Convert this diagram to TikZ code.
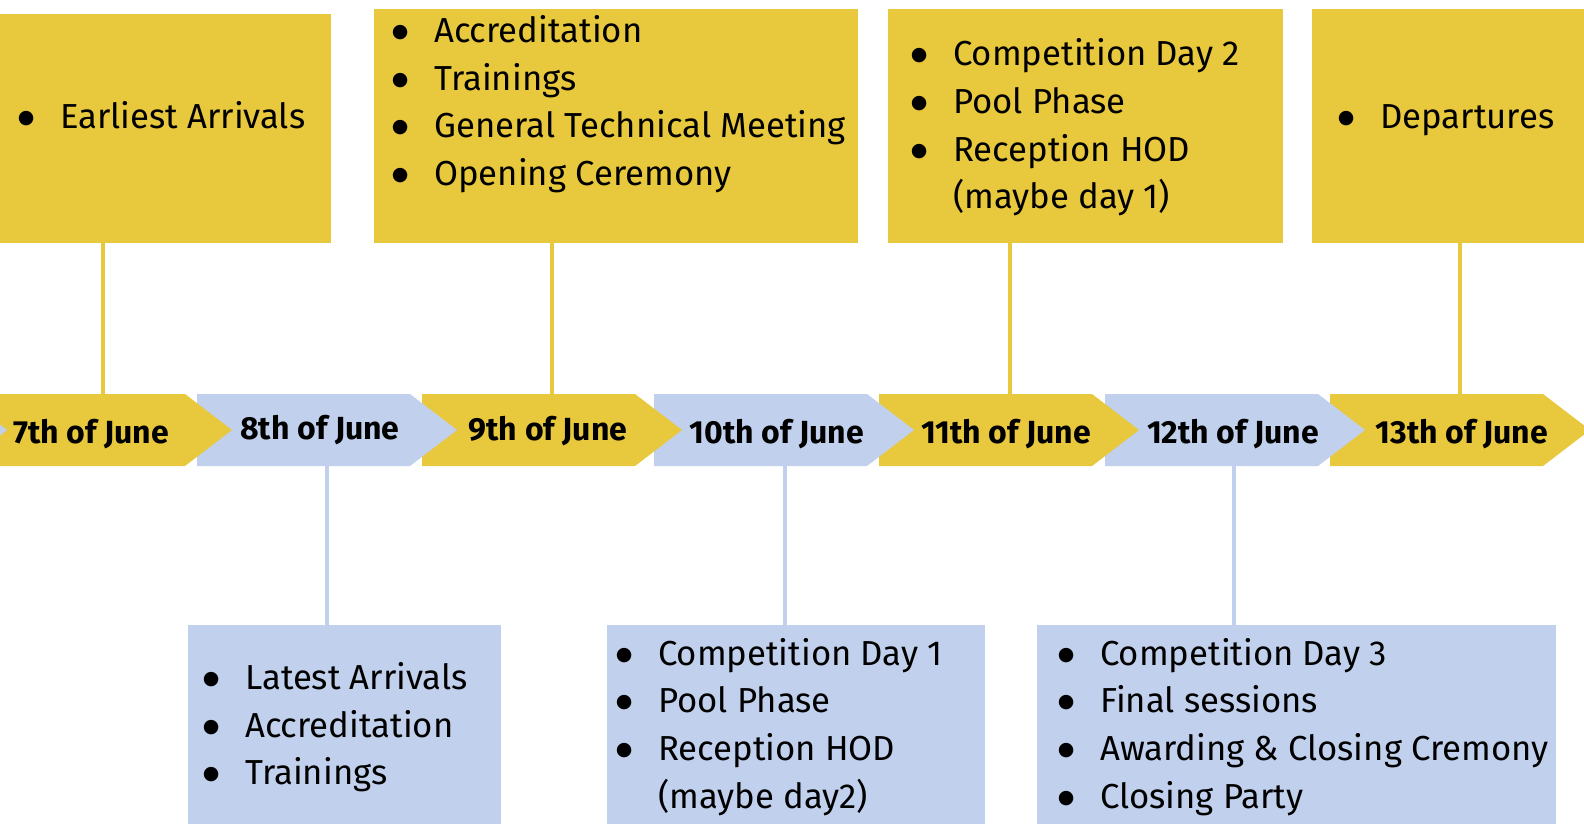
\documentclass[tikz,border=0pt]{standalone}
\usepackage{graphicx}
\usepackage{fontspec}
\setmainfont{Fira Sans}
\newfontfamily\dejavu{DejaVu Sans}
\definecolor{ylw}{RGB}{232,200,60}
\definecolor{blu}{RGB}{193,208,236}
\newlength\bsep
\setlength\bsep{34pt}
\newcommand{\bigbul}{\raisebox{5pt}{\dejavu\fontsize{19}{19}\selectfont ●}}
\newcommand{\itm}[1]{\makebox[0pt]{\bigbul}\hspace*{\bsep}#1}
\newcommand{\cnt}[1]{\hspace*{\bsep}#1}
\newcommand{\chevpath}[2]{\fill[#2] (#1,394) -- ++(213,0) -- ++(47,36) -- ++(-47,36) -- ++(-213,0) -- cycle;}
\tikzset{
  ybox/.style={rectangle, fill=ylw, draw=none, inner sep=0pt, anchor=north west},
  bbox/.style={rectangle, fill=blu, draw=none, inner sep=0pt, anchor=north west},
  listtext/.style={anchor=base west, inner sep=0pt, font=\fontsize{34.7}{47.7}\selectfont},
  datetext/.style={anchor=base, inner sep=0pt, font=\fontsize{32}{36}\selectfont\bfseries},
  yconn/.style={draw=ylw, line width=4pt},
  bconn/.style={draw=blu, line width=4pt},
}
\begin{document}
\begin{tikzpicture}[x=1pt,y=-1pt]
\useasboundingbox (0,0) rectangle (1584,823);
% boxes
\node[ybox, minimum width=331pt, minimum height=229pt] (b1) at (0,14) {};
\node[ybox, minimum width=484pt, minimum height=234pt] (b2) at (374,9) {};
\node[ybox, minimum width=395pt, minimum height=234pt] (b3) at (888,9) {};
\node[ybox, minimum width=300pt, minimum height=234pt] (b4) at (1312,9) {};
\node[bbox, minimum width=313pt, minimum height=210pt] (b5) at (188,625) {};
\node[bbox, minimum width=378pt, minimum height=210pt] (b6) at (607,625) {};
\node[bbox, minimum width=519pt, minimum height=210pt] (b7) at (1037,625) {};
% chevrons (drawn right to left so each tip lies over the next)
\chevpath{1330}{ylw}
\chevpath{1105}{blu}
\chevpath{879}{ylw}
\chevpath{654}{blu}
\chevpath{422}{ylw}
\chevpath{197}{blu}
\chevpath{-28}{ylw}
\chevpath{-253}{blu}
% connector ends
\coordinate (t7) at (103,394);
\coordinate (t9) at (552,394);
\coordinate (t11) at (1010,394);
\coordinate (t13) at (1460,394);
\coordinate (u8) at (327,466);
\coordinate (u10) at (785,466);
\coordinate (u12) at (1234,466);
\draw[yconn] (b1.south -| t7) -- (t7);
\draw[yconn] (b2.south -| t9) -- (t9);
\draw[yconn] (b3.south -| t11) -- (t11);
\draw[yconn] (b4.south -| t13) -- (t13);
\draw[bconn] (u8) -- (u8 |- b5.north);
\draw[bconn] (u10) -- (u10 |- b6.north);
\draw[bconn] (u12) -- (u12 |- b7.north);
% dates
\node[datetext] (d7) at (91,443) {7th of June};
\node[datetext] (d8) at (320,439) {8th of June};
\node[datetext] (d9) at (548,440) {9th of June};
\node[datetext] (d10) at (777,443) {10th of June};
\node[datetext] (d11) at (1006,443) {11th of June};
\node[datetext] (d12) at (1233,443) {12th of June};
\node[datetext] (d13) at (1462,443) {13th of June};
% lists
\node[listtext] (l1) at (26,128) {\begin{tabular}[t]{@{}l@{}}\itm{Earliest Arrivals}\end{tabular}};
\node[listtext] (l2) at (400,42.3) {\begin{tabular}[t]{@{}l@{}}\itm{Accreditation}\\\itm{Trainings}\\\itm{General Technical Meeting}\\\itm{Opening Ceremony}\end{tabular}};
\node[listtext] (l3) at (919,65.7) {\begin{tabular}[t]{@{}l@{}}\itm{Competition Day 2}\\\itm{Pool Phase}\\\itm{Reception HOD}\\\cnt{(maybe day 1)}\end{tabular}};
\node[listtext] (l4) at (1346,128.3) {\begin{tabular}[t]{@{}l@{}}\itm{Departures}\end{tabular}};
\node[listtext] (l5) at (211,689.3) {\begin{tabular}[t]{@{}l@{}}\itm{Latest Arrivals}\\\itm{Accreditation}\\\itm{Trainings}\end{tabular}};
\node[listtext] (l6) at (624,665) {\begin{tabular}[t]{@{}l@{}}\itm{Competition Day 1}\\\itm{Pool Phase}\\\itm{Reception HOD}\\\cnt{(maybe day2)}\end{tabular}};
\node[listtext] (l7) at (1066,665) {\begin{tabular}[t]{@{}l@{}}\itm{Competition Day 3}\\\itm{Final sessions}\\\itm{Awarding \& Closing Cremony}\\\itm{Closing Party}\end{tabular}};
\end{tikzpicture}
\end{document}
